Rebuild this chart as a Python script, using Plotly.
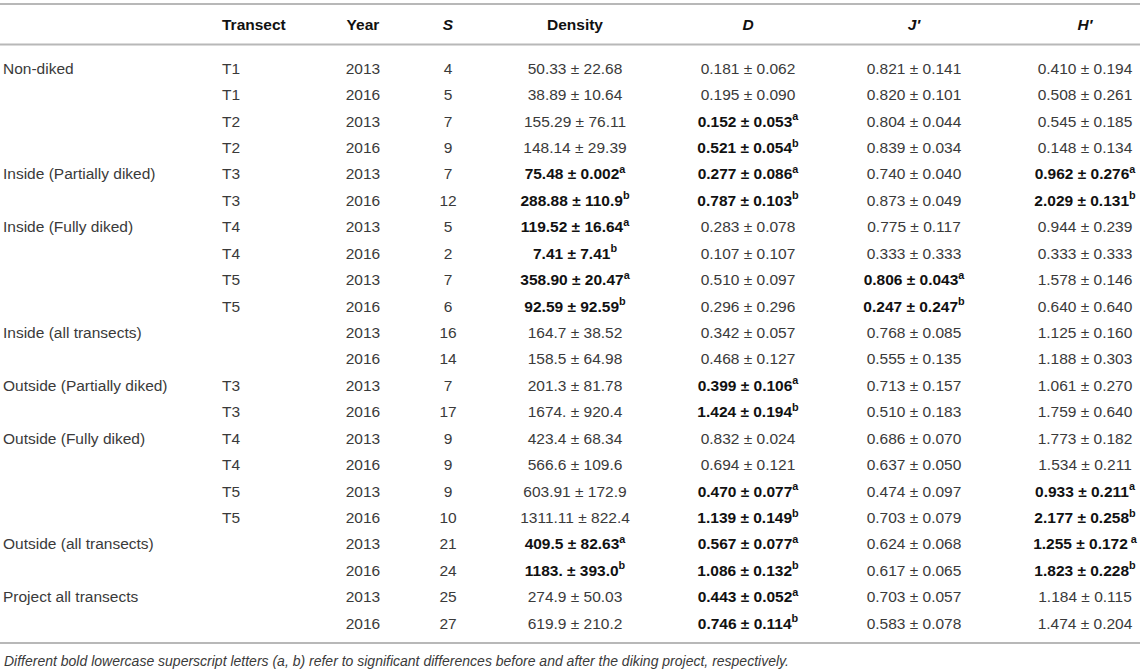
import plotly.graph_objects as go

# ---------------- data ----------------
headers = ["", "Transect", "Year", "<i>S</i>", "Density", "<i>D</i>", "<i>J′</i>", "<i>H′</i>"]

groups = ["Non-diked", "", "", "",
          "Inside (Partially diked)", "",
          "Inside (Fully diked)", "", "", "",
          "Inside (all transects)", "",
          "Outside (Partially diked)", "",
          "Outside (Fully diked)", "", "", "",
          "Outside (all transects)", "",
          "Project all transects", ""]
transects = ["T1", "T1", "T2", "T2", "T3", "T3", "T4", "T4", "T5", "T5", "", "",
             "T3", "T3", "T4", "T4", "T5", "T5", "", "", "", ""]
years = [2013, 2016, 2013, 2016, 2013, 2016, 2013, 2016, 2013, 2016, 2013, 2016,
         2013, 2016, 2013, 2016, 2013, 2016, 2013, 2016, 2013, 2016]
species = [4, 5, 7, 9, 7, 12, 5, 2, 7, 6, 16, 14, 7, 17, 9, 9, 9, 10, 21, 24, 25, 27]

density_mean = ["50.33", "38.89", "155.29", "148.14", "75.48", "288.88", "119.52", "7.41",
                "358.90", "92.59", "164.7", "158.5", "201.3", "1674.", "423.4", "566.6",
                "603.91", "1311.11", "409.5", "1183.", "274.9", "619.9"]
density_se = ["22.68", "10.64", "76.11", "29.39", "0.002", "110.9", "16.64", "7.41",
              "20.47", "92.59", "38.52", "64.98", "81.78", "920.4", "68.34", "109.6",
              "172.9", "822.4", "82.63", "393.0", "50.03", "210.2"]
density_sig = ["", "", "", "", "a", "b", "a", "b", "a", "b", "", "", "", "", "", "",
               "", "", "a", "b", "", ""]

d_mean = ["0.181", "0.195", "0.152", "0.521", "0.277", "0.787", "0.283", "0.107", "0.510",
          "0.296", "0.342", "0.468", "0.399", "1.424", "0.832", "0.694", "0.470", "1.139",
          "0.567", "1.086", "0.443", "0.746"]
d_se = ["0.062", "0.090", "0.053", "0.054", "0.086", "0.103", "0.078", "0.107", "0.097",
        "0.296", "0.057", "0.127", "0.106", "0.194", "0.024", "0.121", "0.077", "0.149",
        "0.077", "0.132", "0.052", "0.114"]
d_sig = ["", "", "a", "b", "a", "b", "", "", "", "", "", "", "a", "b", "", "",
         "a", "b", "a", "b", "a", "b"]

j_mean = ["0.821", "0.820", "0.804", "0.839", "0.740", "0.873", "0.775", "0.333", "0.806",
          "0.247", "0.768", "0.555", "0.713", "0.510", "0.686", "0.637", "0.474", "0.703",
          "0.624", "0.617", "0.703", "0.583"]
j_se = ["0.141", "0.101", "0.044", "0.034", "0.040", "0.049", "0.117", "0.333", "0.043",
        "0.247", "0.085", "0.135", "0.157", "0.183", "0.070", "0.050", "0.097", "0.079",
        "0.068", "0.065", "0.057", "0.078"]
j_sig = ["", "", "", "", "", "", "", "", "a", "b", "", "", "", "", "", "",
         "", "", "", "", "", ""]

h_mean = ["0.410", "0.508", "0.545", "0.148", "0.962", "2.029", "0.944", "0.333", "1.578",
          "0.640", "1.125", "1.188", "1.061", "1.759", "1.773", "1.534", "0.933", "2.177",
          "1.255", "1.823", "1.184", "1.474"]
h_se = ["0.194", "0.261", "0.185", "0.134", "0.276", "0.131", "0.239", "0.333", "0.146",
        "0.640", "0.160", "0.303", "0.270", "0.640", "0.182", "0.211", "0.211", "0.258",
        "0.172", "0.228", "0.115", "0.204"]
h_sig = ["", "", "", "", "a", "b", "", "", "", "", "", "", "", "", "", "",
         "a", "b", " a", "b", "", ""]

footnote = ("Different bold lowercase superscript letters (a, b) refer to significant "
            "differences before and after the diking project, respectively.")

# ---------------- layout constants ----------------
W, H = 1145, 672
ROW0_PX, PITCH_PX = 68.0, 26.43
TEXT_SHIFT = 0.07          # small downward nudge of text within its row
FONT = "Liberation Sans, Arial, Helvetica, sans-serif"
FS = 15.5
TXT = "#3a3a3a"
RULE = "#b8b8b8"


def row_of(px):
    return (px - ROW0_PX) / PITCH_PX


col_x = [3, 222, 363, 448, 575, 748, 914, 1085]
col_pos = ["middle right", "middle right"] + ["middle center"] * 6


def cell(m, s, sig):
    t = f"{m} ± {s}"
    if sig:
        return f"<b style='color:#111'>{t}<sup>{sig}</sup></b>"
    return t


n = len(years)
columns = [
    groups,
    transects,
    [str(v) for v in years],
    [str(v) for v in species],
    [cell(m, s, g) for m, s, g in zip(density_mean, density_se, density_sig)],
    [cell(m, s, g) for m, s, g in zip(d_mean, d_se, d_sig)],
    [cell(m, s, g) for m, s, g in zip(j_mean, j_se, j_sig)],
    [cell(m, s, g) for m, s, g in zip(h_mean, h_se, h_sig)],
]

fig = go.Figure()
for cx, pos, vals in zip(col_x, col_pos, columns):
    keep = [i for i, v in enumerate(vals) if v]
    fig.add_trace(go.Scatter(
        x=[cx] * len(keep), y=[i + TEXT_SHIFT for i in keep], mode="text",
        text=[vals[i] for i in keep], textposition=pos,
        textfont=dict(family=FONT, size=FS, color=TXT),
        hoverinfo="skip", showlegend=False))

fig.add_trace(go.Scatter(
    x=col_x[1:], y=[row_of(24) + TEXT_SHIFT] * (len(headers) - 1), mode="text",
    text=[f"<b>{h}</b>" for h in headers[1:]],
    textposition=col_pos[1:],
    textfont=dict(family=FONT, size=FS, color="#111111"),
    hoverinfo="skip", showlegend=False))

for px in (4, 44.5, 643):
    fig.add_shape(type="line", xref="x", yref="y", x0=0, x1=1140,
                  y0=row_of(px), y1=row_of(px),
                  line=dict(color=RULE, width=2))

fig.add_annotation(x=2, y=row_of(661), xref="x", yref="y", xanchor="left",
                   yanchor="middle", showarrow=False,
                   text=f"<i>{footnote}</i>",
                   font=dict(family=FONT, size=14, color=TXT))

fig.update_layout(
    width=W, height=H, margin=dict(l=0, r=0, t=0, b=0),
    paper_bgcolor="white", plot_bgcolor="white",
    xaxis=dict(range=[0, W], visible=False, fixedrange=True),
    yaxis=dict(range=[row_of(H), row_of(0)], visible=False, fixedrange=True),
)

fig.write_html("out.html", config={"displayModeBar": False},
               post_script="document.body.style.margin='0';document.body.style.overflow='hidden';")
